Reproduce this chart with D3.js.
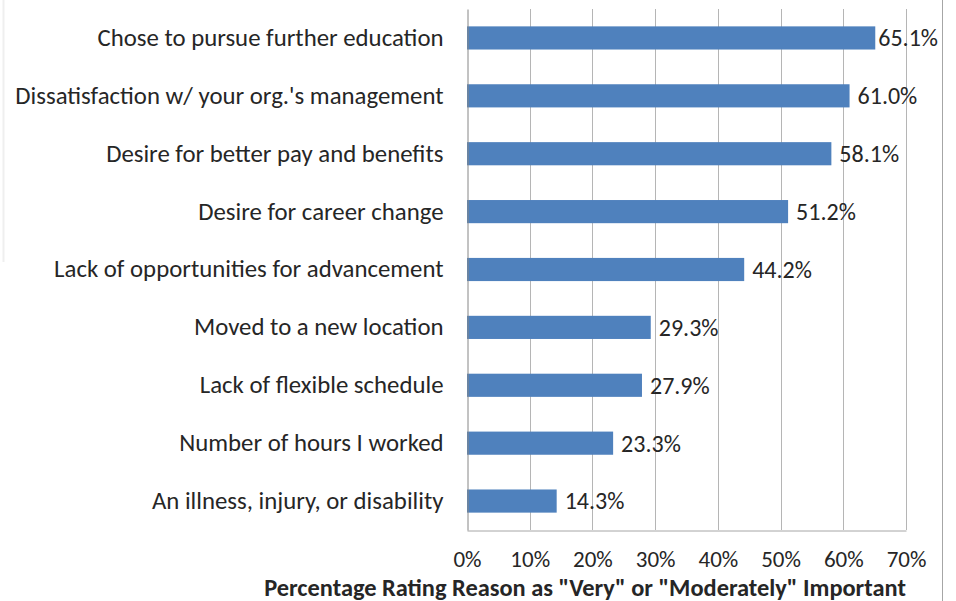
<!DOCTYPE html>
<html><head><meta charset="utf-8">
<script src="https://cdn.jsdelivr.net/npm/d3@7"></script>
<style>body{margin:0;background:#fff;} svg{display:block;}</style>
</head><body>
<svg id="chart" width="956" height="601"></svg>
<script>
const categories = [
  "Chose to pursue further education",
  "Dissatisfaction w/ your org.'s management",
  "Desire for better pay and benefits",
  "Desire for career change",
  "Lack of opportunities for advancement",
  "Moved to a new location",
  "Lack of flexible schedule",
  "Number of hours I worked",
  "An illness, injury, or disability"
];
const values = [65.1, 61.0, 58.1, 51.2, 44.2, 29.3, 27.9, 23.3, 14.3];
const tickValues = [0, 10, 20, 30, 40, 50, 60, 70];
const axisTitle = 'Percentage Rating Reason as "Very" or "Moderately" Important';

const svg = d3.select("#chart");
const font = "Carlito, Calibri, Lato, sans-serif";
const m = {left: 467, right: 906, top: 9, bottom: 530};
const chartRight = 938;

const x = d3.scaleLinear().domain([0, 70]).range([m.left, m.right]);
const y = d3.scaleBand().domain(categories).range([m.top, m.bottom]).paddingInner(0.6).paddingOuter(0.3);

// frame decorations
svg.append("line").attr("x1", 942.5).attr("x2", 942.5).attr("y1", 0).attr("y2", 601).attr("stroke", "#a6a6a6");
svg.append("line").attr("x1", 3.5).attr("x2", 3.5).attr("y1", 0).attr("y2", 262).attr("stroke", "#efefef").attr("stroke-width", 2);

// gridlines
svg.append("g").selectAll("line").data(tickValues.slice(1)).join("line")
  .attr("x1", d => Math.round(x(d)) + 0.5).attr("x2", d => Math.round(x(d)) + 0.5)
  .attr("y1", m.top).attr("y2", m.bottom)
  .attr("stroke", "#b5b5b5").attr("stroke-width", 1);

// x axis
const xAxis = d3.axisBottom(x).tickValues(tickValues).tickFormat(d => d + "%").tickSize(0).tickPadding(20);
const gx = svg.append("g").attr("transform", `translate(0,${m.bottom + 0.5})`).call(xAxis);
gx.select(".domain").attr("stroke", "#a6a6a6");
gx.selectAll("text").attr("font-family", font).attr("font-size", 23).attr("fill", "#262626");

// bars
svg.append("g").selectAll("rect").data(values).join("rect")
  .attr("x", x(0)).attr("y", (d, i) => y(categories[i]))
  .attr("width", d => x(d) - x(0)).attr("height", y.bandwidth())
  .attr("fill", "#4f81bd");

// y axis
const yAxis = d3.axisLeft(y).tickSize(0).tickPadding(24);
const gy = svg.append("g").attr("transform", `translate(${m.left + 0.5},0)`).call(yAxis);
gy.select(".domain").attr("stroke", "#868686");
gy.selectAll("text").attr("font-family", font).attr("font-size", 24.8).attr("fill", "#262626");

// value labels (outside end, kept inside chart area)
svg.append("g").selectAll("text").data(values).join("text")
  .attr("y", (d, i) => y(categories[i]) + y.bandwidth() / 2)
  .attr("dy", "0.35em")
  .attr("font-family", font).attr("font-size", 24).attr("fill", "#262626")
  .text(d => d.toFixed(1) + "%")
  .attr("x", function(d) {
    const w = this.getComputedTextLength();
    return Math.min(x(d) + 8, chartRight - w);
  });

// axis title
svg.append("text").attr("x", 585).attr("y", 595.5).attr("text-anchor", "middle")
  .attr("font-family", font).attr("font-size", 24.4).attr("font-weight", "bold").attr("fill", "#262626")
  .text(axisTitle);
</script>
</body></html>
